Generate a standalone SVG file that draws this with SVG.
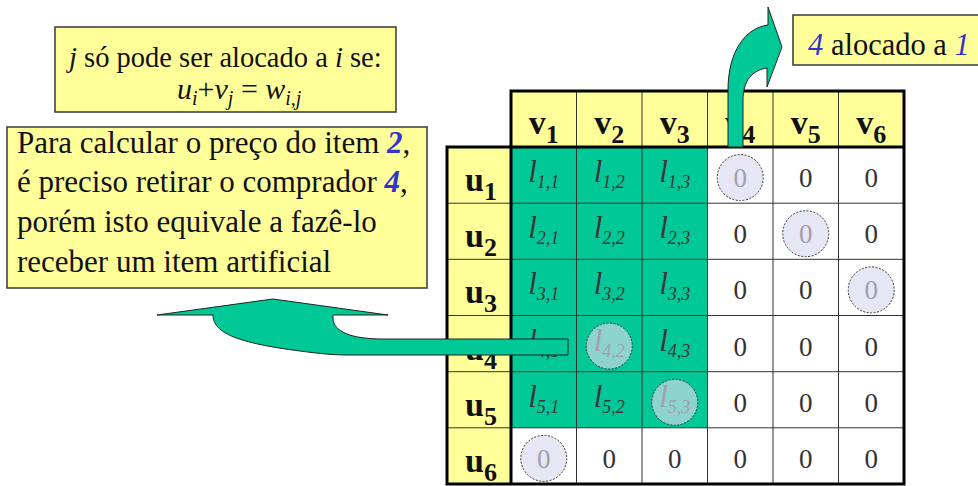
<svg xmlns="http://www.w3.org/2000/svg" width="978" height="486" viewBox="0 0 978 486">
<style>
.box{fill:#FFFF99;stroke:#444;stroke-width:1.6}
.t{font-family:"Liberation Serif","Tinos","DejaVu Serif","Noto Serif",serif;fill:#111}
.it{font-style:italic}
.blue{fill:#3333CC;font-style:italic;font-weight:bold}
.hdr{fill:#FFFF99}
.grn{fill:#00C896}
.wht{fill:#FFFFFF}
.hv{font-family:"Liberation Serif","Tinos","DejaVu Serif",serif;font-weight:bold;font-size:34px;fill:#111;text-anchor:middle}
.lv{font-family:"Liberation Serif","Tinos","DejaVu Serif",serif;font-style:italic;font-size:31px;fill:#383838;text-anchor:middle}
.zv{font-family:"Liberation Serif","Tinos","DejaVu Serif",serif;font-size:27px;fill:#333;text-anchor:middle}
.thin{stroke:#333;stroke-width:1;fill:none}
.thick{stroke:#000;stroke-width:3;fill:none}
.circ{fill:#D8D8EE;fill-opacity:0.65;stroke:#333;stroke-width:1;stroke-dasharray:2 1.5}
.arrow{fill:#00C896;stroke:#222;stroke-width:1}
</style>

<g id="box-condition">
<rect class="box" x="55" y="27" width="341" height="85"/>
<text class="t" x="69" y="67" font-size="28.5"><tspan class="it">j</tspan> só pode ser alocado a <tspan class="it">i</tspan> se:</text>
<text class="t" x="177" y="99" font-size="30"><tspan class="it">u</tspan><tspan class="it" font-size="20" dy="6">i</tspan><tspan dy="-6">+</tspan><tspan class="it">v</tspan><tspan class="it" font-size="20" dy="6">j</tspan><tspan dy="-6"> = </tspan><tspan class="it">w</tspan><tspan class="it" font-size="20" dy="6">i,j</tspan></text>
</g>

<g id="box-price">
<rect class="box" x="7" y="127" width="420" height="161"/>
<text class="t" x="17" y="153" font-size="31">Para calcular o preço do item <tspan class="blue">2</tspan>,</text>
<text class="t" x="17" y="192" font-size="31">é preciso retirar o comprador <tspan class="blue">4</tspan>,</text>
<text class="t" x="17" y="232" font-size="31">porém isto equivale a fazê-lo</text>
<text class="t" x="17" y="272" font-size="31">receber um item artificial</text>
</g>

<g id="box-alloc">
<rect class="box" x="793" y="15" width="190" height="50"/>
<text class="t" x="808" y="55" font-size="30.5"><tspan fill="#3333CC" font-style="italic">4</tspan> alocado a <tspan fill="#3333CC" font-style="italic">1</tspan></text>
</g>

<g id="matrix">
<rect class="hdr" x="511" y="91" width="393" height="56"/>
<rect class="hdr" x="447" y="147" width="64" height="337"/>
<rect class="wht" x="511" y="147" width="393" height="337"/>
<rect class="grn" x="511" y="147" width="196.5" height="280.8"/>

<text class="hv" x="543.75" y="134">v<tspan font-size="26" dy="9">1</tspan></text>
<text class="hv" x="609.25" y="134">v<tspan font-size="26" dy="9">2</tspan></text>
<text class="hv" x="674.75" y="134">v<tspan font-size="26" dy="9">3</tspan></text>
<text class="hv" x="740.25" y="134">v<tspan font-size="26" dy="9">4</tspan></text>
<text class="hv" x="805.75" y="134">v<tspan font-size="26" dy="9">5</tspan></text>
<text class="hv" x="871.25" y="134">v<tspan font-size="26" dy="9">6</tspan></text>

<text class="hv" x="481" y="191">u<tspan font-size="26" dy="9">1</tspan></text>
<text class="hv" x="481" y="247.3">u<tspan font-size="26" dy="9">2</tspan></text>
<text class="hv" x="481" y="303.4">u<tspan font-size="26" dy="9">3</tspan></text>
<text class="hv" x="481" y="359.6">u<tspan font-size="26" dy="9">4</tspan></text>
<text class="hv" x="481" y="415.8">u<tspan font-size="26" dy="9">5</tspan></text>
<text class="hv" x="481" y="471.9">u<tspan font-size="26" dy="9">6</tspan></text>

<text class="lv" x="543.75" y="182">l<tspan font-size="18" dy="6">1,1</tspan></text>
<text class="lv" x="609.25" y="182">l<tspan font-size="18" dy="6">1,2</tspan></text>
<text class="lv" x="674.75" y="182">l<tspan font-size="18" dy="6">1,3</tspan></text>
<text class="lv" x="543.75" y="238.2">l<tspan font-size="18" dy="6">2,1</tspan></text>
<text class="lv" x="609.25" y="238.2">l<tspan font-size="18" dy="6">2,2</tspan></text>
<text class="lv" x="674.75" y="238.2">l<tspan font-size="18" dy="6">2,3</tspan></text>
<text class="lv" x="543.75" y="294.4">l<tspan font-size="18" dy="6">3,1</tspan></text>
<text class="lv" x="609.25" y="294.4">l<tspan font-size="18" dy="6">3,2</tspan></text>
<text class="lv" x="674.75" y="294.4">l<tspan font-size="18" dy="6">3,3</tspan></text>
<text class="lv" x="543.75" y="350.6">l<tspan font-size="18" dy="6">4,1</tspan></text>
<text class="lv" x="609.25" y="350.6">l<tspan font-size="18" dy="6">4,2</tspan></text>
<text class="lv" x="674.75" y="350.6">l<tspan font-size="18" dy="6">4,3</tspan></text>
<text class="lv" x="543.75" y="406.8">l<tspan font-size="18" dy="6">5,1</tspan></text>
<text class="lv" x="609.25" y="406.8">l<tspan font-size="18" dy="6">5,2</tspan></text>
<text class="lv" x="674.75" y="406.8">l<tspan font-size="18" dy="6">5,3</tspan></text>

<g class="zv">
<text x="740.25" y="187">0</text><text x="805.75" y="187">0</text><text x="871.25" y="187">0</text>
<text x="740.25" y="243.2">0</text><text x="805.75" y="243.2">0</text><text x="871.25" y="243.2">0</text>
<text x="740.25" y="299.4">0</text><text x="805.75" y="299.4">0</text><text x="871.25" y="299.4">0</text>
<text x="740.25" y="355.6">0</text><text x="805.75" y="355.6">0</text><text x="871.25" y="355.6">0</text>
<text x="740.25" y="411.8">0</text><text x="805.75" y="411.8">0</text><text x="871.25" y="411.8">0</text>
<text x="543.75" y="467.9">0</text><text x="609.25" y="467.9">0</text><text x="674.75" y="467.9">0</text>
<text x="740.25" y="467.9">0</text><text x="805.75" y="467.9">0</text><text x="871.25" y="467.9">0</text>
</g>

<path class="thin" d="M576.5 91V484M642 91V484M707.5 91V484M773 91V484M838.5 91V484M447 203.2H904M447 259.3H904M447 315.5H904M447 371.7H904M447 427.8H904"/>
<path class="thick" d="M511 91H904V484H447V147H511Z M511 147H904 M511 91V484"/>

<circle class="circ" cx="740.25" cy="177.6" r="23"/>
<circle class="circ" cx="805.75" cy="233.7" r="23"/>
<circle class="circ" cx="871.25" cy="289.9" r="23"/>
<circle class="circ" cx="609.25" cy="346.1" r="23"/>
<circle class="circ" cx="674.75" cy="402.3" r="23"/>
<circle class="circ" cx="543.75" cy="458.4" r="23"/>
</g>

<g id="connectors">
<path class="arrow" d="M728 147L728 90C728 52 745 28 768 25L768 7L782 47L767 87L767 68C753 70 743 80 743 100L743 147Z"/>
<path class="arrow" d="M568 339L383 339C352 339 333 332 333 318L333 315L388 315L273 299L157 315L213 315C213 333 238 343 300 351C322 354 336 355 347 355L568 355Z"/>
</g>
</svg>
